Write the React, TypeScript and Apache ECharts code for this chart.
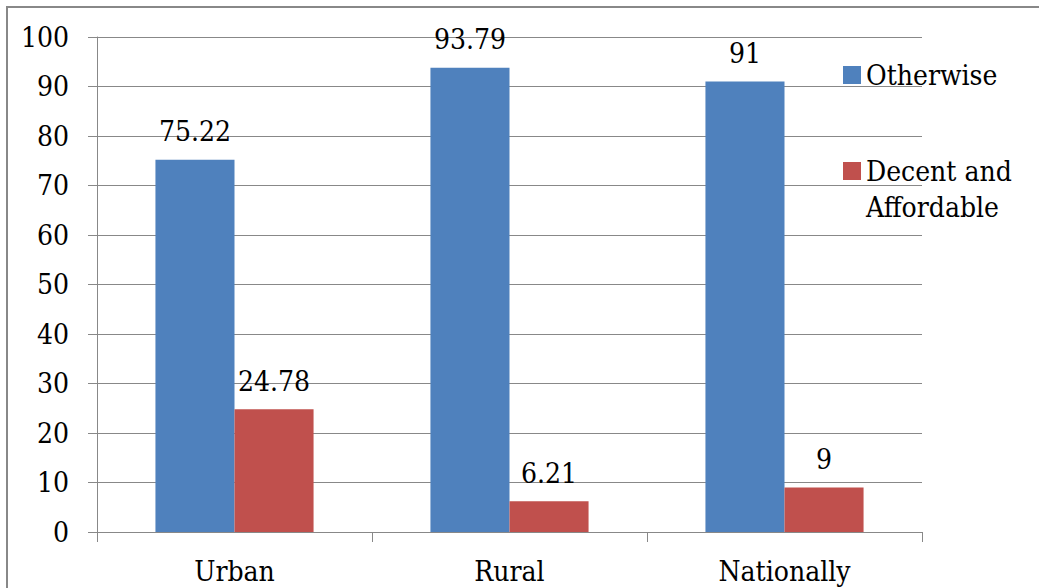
import React, { useEffect, useRef } from "react";
import * as echarts from "echarts";

const categories = ["Urban", "Rural", "Nationally"];
const otherwise = [75.22, 93.79, 91];
const decent = [24.78, 6.21, 9];
const seriesNames = ["Otherwise", "Decent and\nAffordable"];
const colors = ["#4F81BD", "#C0504D"];

const FONT = "DejaVu Serif Condensed";
const FS = 28;

export default function App() {
  const ref = useRef<HTMLDivElement>(null);
  useEffect(() => {
    if (!ref.current) return;
    const chart = echarts.init(ref.current, null, { renderer: "svg" });
    const labelStyle = {
      show: true,
      position: "top",
      distance: 14,
      color: "#000",
      fontFamily: FONT,
      fontSize: FS,
    };
    chart.setOption({
      animation: false,
      backgroundColor: "#fff",
      textStyle: { fontFamily: FONT },
      graphic: [
        {
          type: "rect",
          shape: { x: 7, y: 7, width: 1200, height: 1000 },
          style: { fill: "none", stroke: "#888", lineWidth: 2 },
          silent: true,
        },
      ],
      legend: [
        {
          data: [seriesNames[0]],
          left: 843,
          top: 57,
          padding: 0,
          orient: "vertical",
          icon: "rect",
          itemWidth: 18,
          itemHeight: 18,
          textStyle: { color: "#000", fontFamily: FONT, fontSize: FS, lineHeight: 36 },
        },
        {
          data: [seriesNames[1]],
          left: 843,
          top: 117,
          padding: 0,
          orient: "vertical",
          icon: "rect",
          itemWidth: 18,
          itemHeight: 18,
          formatter: (name: string) => "\n" + name,
          textStyle: {
            color: "#000",
            fontFamily: FONT,
            fontSize: FS,
            lineHeight: 36,
          },
        },
      ],
      grid: { left: 97, right: 117, top: 37, bottom: 56, containLabel: false },
      xAxis: {
        type: "category",
        data: categories,
        axisLine: { show: true, lineStyle: { color: "#888", width: 1 } },
        axisTick: { show: true, length: 10, lineStyle: { color: "#888" } },
        axisLabel: { color: "#000", fontFamily: FONT, fontSize: FS, margin: 25 },
      },
      yAxis: {
        type: "value",
        min: 0,
        max: 100,
        interval: 10,
        axisLine: { show: true, lineStyle: { color: "#888", width: 1 } },
        axisTick: { show: true, length: 9, lineStyle: { color: "#888" } },
        splitLine: { show: true, lineStyle: { color: "#888", width: 1 } },
        axisLabel: { color: "#000", fontFamily: FONT, fontSize: FS, margin: 28 },
      },
      series: [
        {
          name: seriesNames[0],
          type: "bar",
          data: otherwise,
          itemStyle: { color: colors[0] },
          barGap: "0%",
          barCategoryGap: "42.5%",
          label: labelStyle,
        },
        {
          name: seriesNames[1],
          type: "bar",
          data: decent,
          itemStyle: { color: colors[1] },
          barGap: "0%",
          barCategoryGap: "42.5%",
          label: labelStyle,
        },
      ],
    });
    return () => chart.dispose();
  }, []);
  return (
    <div
      ref={ref}
      style={{ position: "absolute", left: 0, top: 0, width: 1039, height: 588 }}
    />
  );
}
